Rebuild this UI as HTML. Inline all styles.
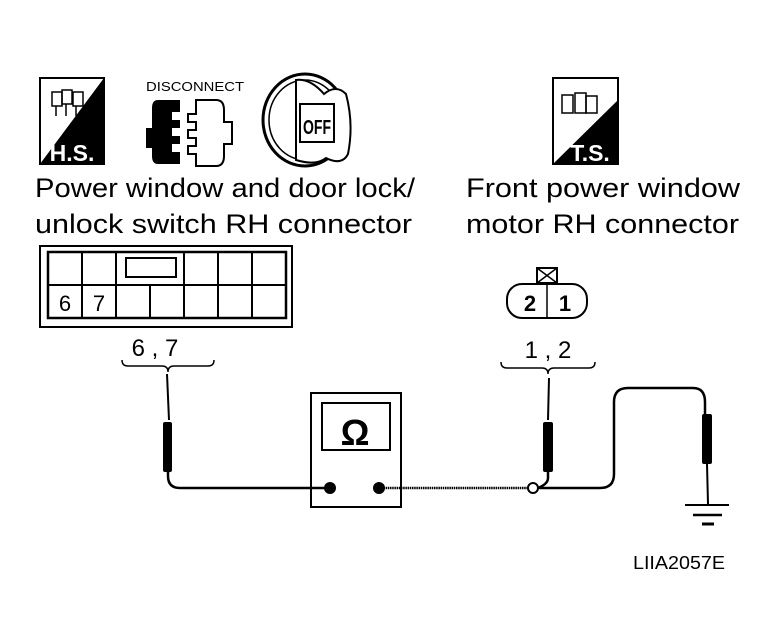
<!DOCTYPE html>
<html><head><style>
body{margin:0;background:#fff;}
svg{display:block;}
text{font-family:"Liberation Sans",sans-serif;fill:#000;}
</style></head><body>
<svg width="776" height="644" viewBox="0 0 776 644" xmlns="http://www.w3.org/2000/svg">
<!-- H.S. icon -->
<rect x="40" y="78" width="64" height="86" fill="#fff" stroke="#000" stroke-width="2"/>
<polygon points="104,78 104,164 40,164" fill="#000"/>
<text x="72" y="161" font-size="23" font-weight="bold" text-anchor="middle" style="fill:#fff">H.S.</text>
<g fill="none" stroke="#000" stroke-width="1.5">
<rect x="52" y="92" width="10" height="14"/><rect x="62" y="90" width="10" height="14"/><rect x="73" y="92" width="10" height="14"/>
<path d="M56 106v10M66 104v12M76 106v10"/>
</g>
<!-- Disconnect -->
<text x="195" y="91" font-size="13" text-anchor="middle" textLength="98" lengthAdjust="spacingAndGlyphs">DISCONNECT</text>
<path d="M158 100 h22 v12 h-8 v8 h8 v8 h-8 v8 h8 v8 h-8 v8 h8 v12 h-22 q-6 0 -6 -8 v-8 h-6 v-20 h6 v-20 q0-8 6-8z" fill="#000"/>
<path d="M196 100 h20 q8 0 8 10 v12 h8 v22 h-8 v12 q0 10 -8 10 h-20 v-12 h-8 v-8 h8 v-8 h-8 v-8 h8 v-8 h-8 v-8 h8z" fill="#fff" stroke="#000" stroke-width="2"/>
<!-- Key -->
<ellipse cx="305" cy="120" rx="42" ry="46" fill="#fff" stroke="#000" stroke-width="3"/>
<ellipse cx="305" cy="120" rx="36" ry="40" fill="none" stroke="#000" stroke-width="1.5"/>
<path d="M296 80 v80 q20 6 30 -2 q16 8 22 -4 q6 -30 -2 -60 q-10 -10 -22 0 q-14 -16 -28 -14z" fill="#fff" stroke="#000" stroke-width="2"/>
<rect x="300" y="104" width="34" height="38" fill="#fff" stroke="#000" stroke-width="2"/>
<text x="317" y="134" font-size="20" font-weight="bold" text-anchor="middle" textLength="28" lengthAdjust="spacingAndGlyphs">OFF</text>
<!-- T.S. icon -->
<rect x="553" y="78" width="65" height="86" fill="#fff" stroke="#000" stroke-width="2"/>
<polygon points="618,100 618,164 553,164" fill="#000"/>
<text x="590" y="161" font-size="23" font-weight="bold" text-anchor="middle" style="fill:#fff">T.S.</text>
<g fill="none" stroke="#000" stroke-width="1.5">
<rect x="562" y="95" width="11" height="18"/><rect x="575" y="93" width="11" height="20"/><rect x="586" y="96" width="11" height="17"/>
</g>
<!-- Titles -->
<text x="35" y="197" font-size="27" textLength="380" lengthAdjust="spacingAndGlyphs">Power window and door lock/</text>
<text x="35" y="233" font-size="27" textLength="377" lengthAdjust="spacingAndGlyphs">unlock switch RH connector</text>
<text x="466" y="197" font-size="27" textLength="274" lengthAdjust="spacingAndGlyphs">Front power window</text>
<text x="466" y="233" font-size="27" textLength="273" lengthAdjust="spacingAndGlyphs">motor RH connector</text>
<!-- Left connector -->
<rect x="40" y="246" width="252" height="81" fill="none" stroke="#000" stroke-width="2"/>
<rect x="48" y="252" width="238" height="66" fill="none" stroke="#000" stroke-width="2.5"/>
<g stroke="#000" stroke-width="2">
<line x1="48" y1="285" x2="286" y2="285"/>
<line x1="82" y1="252" x2="82" y2="318"/><line x1="116" y1="252" x2="116" y2="318"/>
<line x1="150" y1="285" x2="150" y2="318"/><line x1="184" y1="252" x2="184" y2="318"/>
<line x1="218" y1="252" x2="218" y2="318"/><line x1="252" y1="252" x2="252" y2="318"/>
</g>
<rect x="126" y="258" width="50" height="19" fill="none" stroke="#000" stroke-width="2"/>
<text x="65" y="311" font-size="22" text-anchor="middle">6</text>
<text x="99" y="311" font-size="22" text-anchor="middle">7</text>
<text x="155" y="356" font-size="24" text-anchor="middle">6 , 7</text>
<path d="M122 360 q0 6 6 6 h34 q6 0 6 6 q0 -6 6 -6 h34 q6 0 6 -6" fill="none" stroke="#000" stroke-width="1.5"/>
<!-- Right connector -->
<rect x="537" y="268" width="20" height="15" fill="#fff" stroke="#000" stroke-width="2"/>
<path d="M537 268 L557 283 M557 268 L537 283" stroke="#000" stroke-width="1.5"/>
<rect x="507" y="284" width="80" height="34" rx="15" fill="#fff" stroke="#000" stroke-width="2"/>
<line x1="547" y1="284" x2="547" y2="318" stroke="#000" stroke-width="1.5"/>
<text x="530" y="311" font-size="22" font-weight="bold" text-anchor="middle">2</text>
<text x="565" y="311" font-size="22" font-weight="bold" text-anchor="middle">1</text>
<text x="548" y="358" font-size="24" text-anchor="middle">1 , 2</text>
<path d="M501 362 q0 6 6 6 h35 q6 0 6 6 q0 -6 6 -6 h35 q6 0 6 -6" fill="none" stroke="#000" stroke-width="1.5"/>
<!-- Left probe -->
<path d="M167 374 L169 420" stroke="#000" stroke-width="2"/>
<rect x="163" y="422" width="9" height="50" rx="2" fill="#000"/>
<path d="M168 472 V476 q0 12 12 12 H330" fill="none" stroke="#000" stroke-width="2.5"/>
<!-- Meter -->
<rect x="311" y="393" width="90" height="114" fill="#fff" stroke="#000" stroke-width="2"/>
<rect x="322" y="403" width="68" height="47" fill="#fff" stroke="#000" stroke-width="2"/>
<text x="355" y="445" font-size="36" font-weight="bold" text-anchor="middle">Ω</text>
<line x1="311" y1="488" x2="330" y2="488" stroke="#000" stroke-width="2.5"/>
<circle cx="330" cy="488" r="6" fill="#000"/>
<circle cx="379" cy="488" r="6" fill="#000"/>
<line x1="379" y1="488" x2="528" y2="488" stroke="#000" stroke-width="2.5" stroke-dasharray="1.5,0.7"/>
<!-- Right probe -->
<path d="M549 378 L548 420" stroke="#000" stroke-width="2"/>
<rect x="543" y="422" width="10" height="50" rx="2" fill="#000"/>
<path d="M548 472 V478 q0 6 -10 10" fill="none" stroke="#000" stroke-width="2.5"/>
<circle cx="533" cy="488" r="5" fill="#fff" stroke="#000" stroke-width="2"/>
<path d="M538 488 H600 q14 0 14 -14 V402 q0 -14 14 -14 H693 q12 0 12 14 V415" fill="none" stroke="#000" stroke-width="2.5"/>
<rect x="702" y="414" width="10" height="50" rx="2" fill="#000"/>
<path d="M707 464 L708 504" stroke="#000" stroke-width="2"/>
<line x1="685" y1="505" x2="729" y2="505" stroke="#000" stroke-width="2"/>
<line x1="693" y1="515" x2="722" y2="515" stroke="#000" stroke-width="2.5"/>
<line x1="702" y1="524" x2="714" y2="524" stroke="#000" stroke-width="3"/>
<text x="633" y="569" font-size="18" textLength="92" lengthAdjust="spacingAndGlyphs">LIIA2057E</text>
</svg>
</body></html>
